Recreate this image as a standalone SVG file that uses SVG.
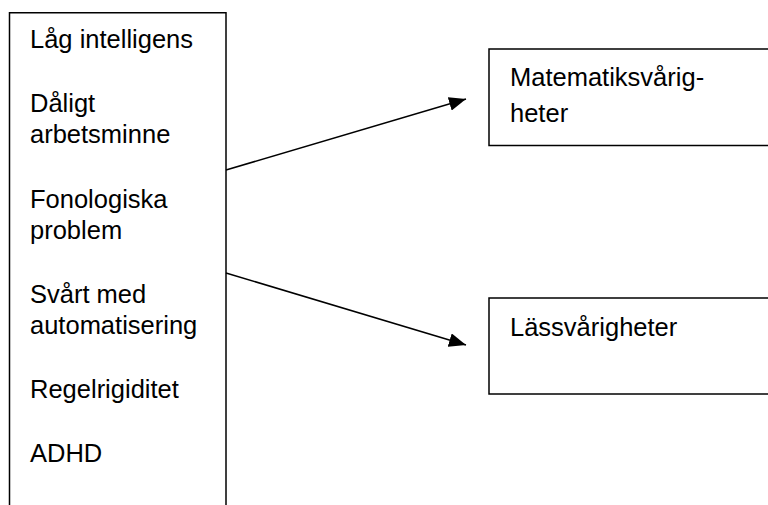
<svg xmlns="http://www.w3.org/2000/svg" width="768" height="505" viewBox="0 0 768 505">
  <style>
    .box { fill: #ffffff; stroke: #000000; stroke-width: 1.5; }
    .t { font-family: "Liberation Sans", Arial, Helvetica, sans-serif; font-size: 25.5px; fill: #000000; }
    .conn { stroke: #000000; stroke-width: 1.5; fill: none; }
  </style>
  <defs>
    <marker id="arrow" markerUnits="userSpaceOnUse" markerWidth="18" markerHeight="14" refX="17" refY="7" orient="auto">
      <path d="M0,0 L17,7 L0,14 Z" fill="#000000"/>
    </marker>
  </defs>
  <rect width="768" height="505" fill="#ffffff"/>

  <g id="causes">
    <rect class="box" x="9.5" y="12.75" width="216.5" height="510"/>
    <text class="t" x="30" y="48">Låg intelligens</text>
    <text class="t" x="30" y="112">Dåligt</text>
    <text class="t" x="30" y="143">arbetsminne</text>
    <text class="t" x="30" y="208">Fonologiska</text>
    <text class="t" x="30" y="239">problem</text>
    <text class="t" x="30" y="303">Svårt med</text>
    <text class="t" x="30" y="334">automatisering</text>
    <text class="t" x="30" y="398">Regelrigiditet</text>
    <text class="t" x="30" y="462">ADHD</text>
  </g>

  <g id="math">
    <rect class="box" x="489" y="49" width="300" height="96.5"/>
    <text class="t" x="510" y="86">Matematiksvårig-</text>
    <text class="t" x="510" y="122">heter</text>
  </g>

  <g id="reading">
    <rect class="box" x="489" y="298" width="300" height="96"/>
    <text class="t" x="510" y="336">Lässvårigheter</text>
  </g>

  <g id="connectors">
    <line class="conn" x1="226" y1="170" x2="466" y2="99" marker-end="url(#arrow)"/>
    <line class="conn" x1="226" y1="273" x2="466" y2="345" marker-end="url(#arrow)"/>
  </g>
</svg>
